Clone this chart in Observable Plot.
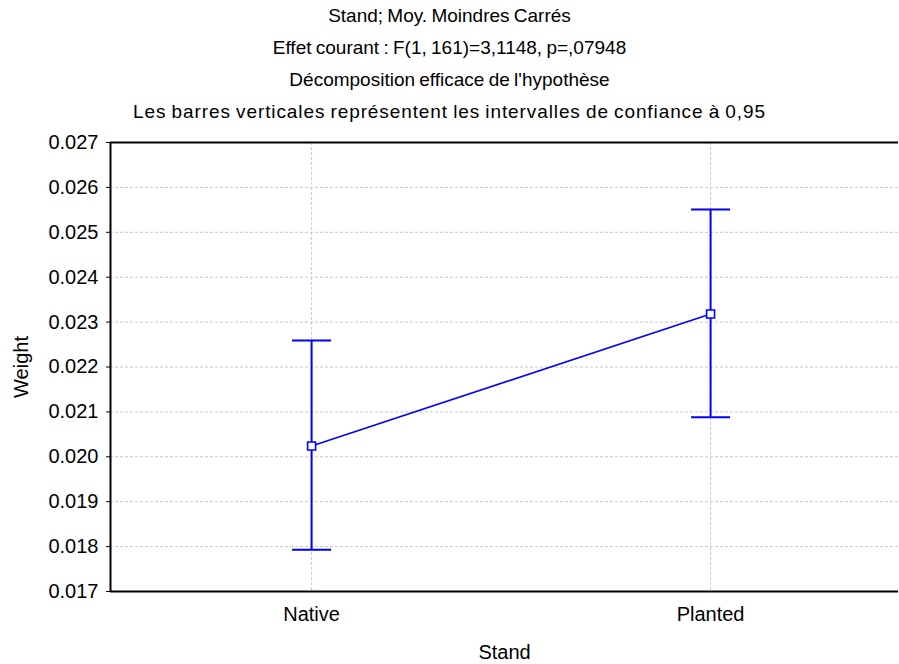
<!DOCTYPE html>
<html><head><meta charset="utf-8">
<script src="https://cdn.jsdelivr.net/npm/d3@7"></script>
<script src="https://cdn.jsdelivr.net/npm/@observablehq/plot@0.6"></script>
<style>
body{margin:0;background:#fff;font-family:"Liberation Sans",Arial,sans-serif;}
#titles{width:899px;text-align:center;font-size:19px;line-height:32px;color:#000;word-spacing:-1px;}
#titles div{height:32px;white-space:nowrap;}
#titles div.wide{letter-spacing:0.9px;}
</style></head><body>
<div id="titles"></div><div id="chart"></div>
<script>
const titleLines = [
  "Stand; Moy. Moindres Carrés",
  "Effet courant : F(1, 161)=3,1148, p=,07948",
  "Décomposition efficace de l'hypothèse",
  "Les barres verticales représentent les intervalles de confiance à 0,95"
];
const stands = ["Native", "Planted"];
const means = [0.02024, 0.02318];
const lower = [0.01793, 0.02088];
const upper = [0.02259, 0.02551];
const yTicks = [0.017, 0.018, 0.019, 0.020, 0.021, 0.022, 0.023, 0.024, 0.025, 0.026, 0.027];
const xDomain = [-0.504, 1.471];
const yDomain = [0.017, 0.027];

const titles = document.getElementById("titles");
titleLines.forEach((t, k) => {
  const d = document.createElement("div");
  d.textContent = t;
  if (k === titleLines.length - 1) d.className = "wide";
  titles.appendChild(d);
});

const idx = stands.map((d, i) => i);
const data = stands.map((s, i) => ({stand: s, i, mean: means[i], lo: lower[i], hi: upper[i]}));
const caps = data.flatMap(d => [{i: d.i, v: d.lo}, {i: d.i, v: d.hi}]);

const hLine = {draw(ctx, size) { const w = Math.sqrt(size / Math.PI); ctx.moveTo(-w, 0); ctx.lineTo(w, 0); }};
const blue = "#0000ff";
const grid = "#c8c8c8";

const chart = Plot.plot({
  width: 899, height: 536,
  marginTop: 14, marginBottom: 73, marginLeft: 110, marginRight: 1,
  style: {fontFamily: "'Liberation Sans', Arial, sans-serif", fontSize: "20px", background: "white", color: "black", overflow: "visible"},
  x: {type: "linear", domain: xDomain, ticks: idx, tickFormat: i => stands[i], tickSize: 0, tickPadding: 15, label: "Stand", labelAnchor: "center", labelOffset: 67, labelArrow: "none"},
  y: {domain: yDomain, ticks: yTicks, tickFormat: d3.format(".3f"), tickSize: 4, tickPadding: 8, label: "Weight", labelAnchor: "center", labelOffset: 97, labelArrow: "none"},
  marks: [
    Plot.ruleY(yTicks, {stroke: grid, strokeWidth: 1, strokeDasharray: "3,2"}),
    Plot.ruleX(idx, {stroke: grid, strokeWidth: 1, strokeDasharray: "3,2"}),
    Plot.ruleY([yDomain[0], yDomain[1]], {stroke: "black", strokeWidth: 2}),
    Plot.ruleX([xDomain[0]], {stroke: "black", strokeWidth: 2}),
    Plot.ruleX(data, {x: "i", y1: "lo", y2: "hi", stroke: blue, strokeWidth: 2}),
    Plot.dot(caps, {x: "i", y: "v", symbol: hLine, r: 19.5, stroke: blue, strokeWidth: 2, fill: "none"}),
    Plot.line(data, {x: "i", y: "mean", stroke: blue, strokeWidth: 1.6}),
    Plot.dot(data, {x: "i", y: "mean", symbol: "square", r: 4.5, fill: "white", stroke: blue, strokeWidth: 1.6})
  ]
});
document.getElementById("chart").appendChild(chart);
</script>
</body></html>
